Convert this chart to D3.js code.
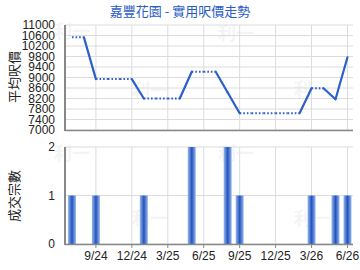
<!DOCTYPE html>
<html><head><meta charset="utf-8">
<script src="https://cdn.jsdelivr.net/npm/d3@7"></script>
<style>body{margin:0;background:#fff}svg{display:block}</style>
</head><body>
<script>
const months = ["2024-07","2024-08","2024-09","2024-10","2024-11","2024-12","2025-01","2025-02","2025-03","2025-04","2025-05","2025-06","2025-07","2025-08","2025-09","2025-10","2025-11","2025-12","2026-01","2026-02","2026-03","2026-04","2026-05","2026-06"];
const avgPrice = [10530,10530,8940,8940,8940,8940,8200,8200,8200,8200,9220,9220,9220,8430,7640,7640,7640,7640,7640,7640,8590,8590,8170,9770];
const deals = [1,0,1,0,0,0,1,0,0,0,2,0,0,2,1,0,0,0,0,0,1,0,1,1];
const xTickLabels = ["9/24","12/24","3/25","6/25","9/25","12/25","3/26","6/26"];
const xTickMonths = ["2024-09","2024-12","2025-03","2025-06","2025-09","2025-12","2026-03","2026-06"];
const yTicksTop = [7000,7400,7800,8200,8600,9000,9400,9800,10200,10600,11000];
const yTicksBottom = [0,1,2];
const title = "嘉豐花園 - 實用呎價走勢";
const yLabelTop = "平均呎價";
const yLabelBottom = "成交宗數";

(function(){
const W=360,H=270;
const svg=d3.select("body").append("svg").attr("width",W).attr("height",H);
const font="'Liberation Sans Narrow', 'Arial Narrow', 'Liberation Sans', Arial, sans-serif";
const L=65,R=353;
const x=d3.scaleLinear().domain([-0.58,23.46]).range([L,R]);
const idx=m=>months.indexOf(m);

const defs=svg.append("defs");
const g=defs.append("linearGradient").attr("id","bg").attr("x1","0").attr("x2","1").attr("y1","0").attr("y2","0");
[[0,"#9ab8ec"],[0.25,"#5b86d8"],[0.5,"#2553b8"],[0.75,"#5b86d8"],[1,"#9ab8ec"]].forEach(([o,c])=>g.append("stop").attr("offset",o).attr("stop-color",c));

// watermarks
const wm=[[72,38],[150,97],[236,40],[312,96],[72,160],[150,225],[236,160],[312,225]];
svg.append("g").selectAll("text").data(wm).join("text").attr("x",d=>d[0]).attr("y",d=>d[1]).attr("text-anchor","middle")
 .attr("font-family","'Noto Sans CJK TC',sans-serif").attr("font-size",18).attr("font-weight","bold").attr("fill","#000").attr("opacity",0.04).text("利一");

svg.append("text").attr("x",180).attr("y",16).attr("text-anchor","middle").attr("font-family","'Noto Sans CJK TC',sans-serif").attr("font-size",13).attr("fill","#2b5cc4").text(title);

// top chart
const yT=d3.scaleLinear().domain([7000,11000]).range([130,25]);
const gt=svg.append("g");
gt.selectAll("line.h").data(yTicksTop).join("line").attr("x1",L).attr("x2",R).attr("y1",d=>yT(d)).attr("y2",d=>yT(d)).attr("stroke","#dcdcdc").attr("stroke-width",1);
gt.selectAll("line.v").data(xTickMonths).join("line").attr("x1",d=>x(idx(d))).attr("x2",d=>x(idx(d))).attr("y1",25).attr("y2",130).attr("stroke","#dcdcdc");
gt.selectAll("text.yt").data(yTicksTop).join("text").attr("x",55).attr("y",d=>yT(d)+4.3).attr("text-anchor","end").attr("font-family",font).attr("font-size",12).attr("fill","#222").text(d=>d);
gt.append("line").attr("x1",L).attr("x2",L).attr("y1",25).attr("y2",131).attr("stroke","#888").attr("stroke-width",2);
gt.append("line").attr("x1",L).attr("x2",R).attr("y1",130.5).attr("y2",130.5).attr("stroke","#888").attr("stroke-width",1.5);
gt.append("text").attr("transform","translate(19,77) rotate(-90)").attr("text-anchor","middle").attr("font-family","'Noto Sans CJK TC',sans-serif").attr("font-size",13).attr("fill","#222").text(yLabelTop);

const lineColor="#2a5fcc";
for(let i=0;i<avgPrice.length-1;i++){
  const same=avgPrice[i]===avgPrice[i+1];
  const ln=gt.append("line").attr("x1",x(i)).attr("x2",x(i+1)).attr("y1",yT(avgPrice[i])).attr("y2",yT(avgPrice[i+1])).attr("stroke",lineColor);
  if(same) ln.attr("stroke-width",2).attr("stroke-dasharray","1.6,2").attr("stroke-linecap","butt");
  else ln.attr("stroke-width",2.2).attr("stroke-linecap","round");
}

// bottom chart
const yB=d3.scaleLinear().domain([0,2]).range([244,147]);
const gb=svg.append("g");
gb.selectAll("line.h").data(yTicksBottom).join("line").attr("x1",L).attr("x2",R).attr("y1",d=>yB(d)).attr("y2",d=>yB(d)).attr("stroke","#dcdcdc");
gb.selectAll("line.v").data(xTickMonths).join("line").attr("x1",d=>x(idx(d))).attr("x2",d=>x(idx(d))).attr("y1",147).attr("y2",244).attr("stroke","#dcdcdc");
gb.selectAll("rect").data(deals.map((v,i)=>[i,v]).filter(d=>d[1]>0)).join("rect")
 .attr("x",d=>x(d[0])-4).attr("width",8).attr("y",d=>yB(d[1])).attr("height",d=>yB(0)-yB(d[1])).attr("fill","url(#bg)");
gb.selectAll("text.yt").data(yTicksBottom).join("text").attr("x",55).attr("y",d=>yB(d)+4.3).attr("text-anchor","end").attr("font-family",font).attr("font-size",12).attr("fill","#222").text(d=>d);
gb.append("line").attr("x1",L).attr("x2",L).attr("y1",147).attr("y2",245).attr("stroke","#888").attr("stroke-width",2);
gb.append("line").attr("x1",L).attr("x2",R).attr("y1",244.5).attr("y2",244.5).attr("stroke","#888").attr("stroke-width",1.5);
gb.selectAll("line.tk").data(xTickMonths).join("line").attr("x1",d=>x(idx(d))).attr("x2",d=>x(idx(d))).attr("y1",244).attr("y2",248).attr("stroke","#888");
gb.selectAll("text.xt").data(xTickLabels).join("text").attr("x",(d,i)=>x(idx(xTickMonths[i]))).attr("y",260).attr("text-anchor","middle").attr("font-family",font).attr("font-size",12).attr("fill","#222").text(d=>d);
gb.append("text").attr("transform","translate(19,196) rotate(-90)").attr("text-anchor","middle").attr("font-family","'Noto Sans CJK TC',sans-serif").attr("font-size",13).attr("fill","#222").text(yLabelBottom);
})();
</script>
</body></html>
